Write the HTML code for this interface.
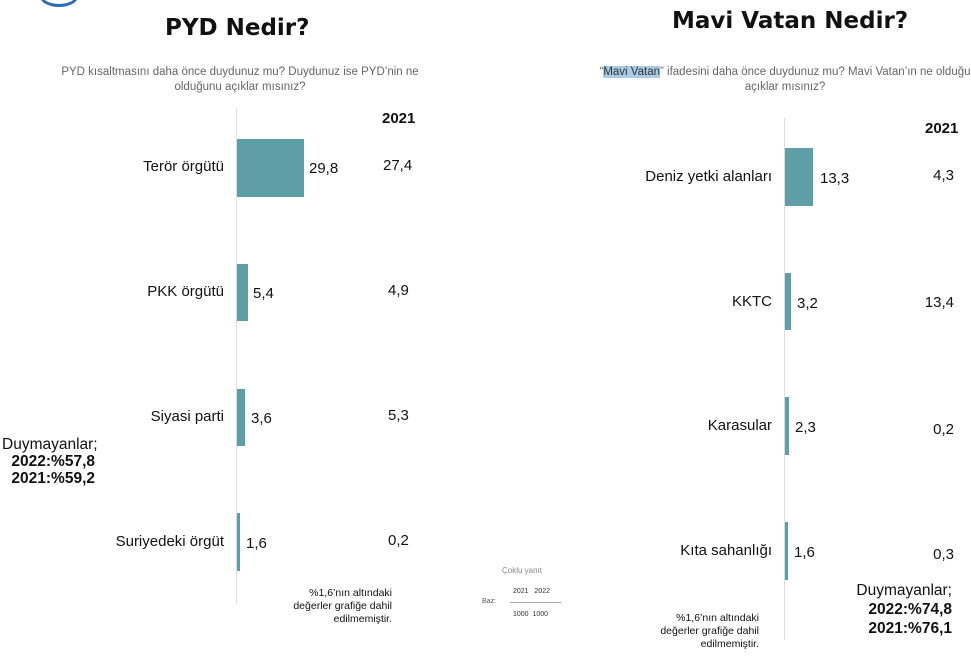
<!DOCTYPE html>
<html><head><meta charset="utf-8"><style>
body{margin:0;width:971px;height:660px;background:#fff;position:relative;overflow:hidden;font-family:"Liberation Sans","DejaVu Sans",sans-serif;color:#111}
div{position:absolute;white-space:nowrap}
.t{font-family:"DejaVu Sans","Liberation Sans",sans-serif;font-weight:bold;font-size:23px;color:#111}
.s{font-size:11.5px;color:#666;text-align:center;line-height:15px}
.l{font-size:15px;text-align:right}
.v{font-size:15px}
.b{background:#5f9ea5}
.ax{background:#dcdcdc;width:1px}
.n{font-size:10.5px;text-align:right;line-height:13px;color:#111}
.d{font-size:15.5px;line-height:17px}
</style></head><body>
<div style="left:40px;top:-14px;width:32px;height:18px;border-radius:50%;border:3px solid #2a6db5;border-top:none"></div>

<div class="t" style="left:165px;top:15px">PYD Nedir?</div>
<div class="s" style="left:40px;top:65px;width:400px">PYD kısaltmasını daha önce duydunuz mu? Duydunuz ise PYD’nin ne<br>olduğunu açıklar mısınız?</div>
<div class="ax" style="left:236px;top:108px;height:496px"></div>
<div style="left:382px;top:110px;font-weight:bold;font-size:15px">2021</div>
<div class="b" style="left:237px;top:139px;width:67px;height:58px"></div>
<div class="b" style="left:237px;top:264px;width:11px;height:57px"></div>
<div class="b" style="left:237px;top:389px;width:8px;height:57px"></div>
<div class="b" style="left:237px;top:513px;width:3px;height:58px"></div>
<div class="l" style="right:747px;top:158px">Terör örgütü</div>
<div class="l" style="right:747px;top:283px">PKK örgütü</div>
<div class="l" style="right:747px;top:408px">Siyasi parti</div>
<div class="l" style="right:747px;top:533px">Suriyedeki örgüt</div>
<div class="v" style="left:309px;top:160px">29,8</div>
<div class="v" style="left:253px;top:285px">5,4</div>
<div class="v" style="left:251px;top:410px">3,6</div>
<div class="v" style="left:246px;top:535px">1,6</div>
<div class="v" style="left:383px;top:157px">27,4</div>
<div class="v" style="left:388px;top:282px">4,9</div>
<div class="v" style="left:388px;top:407px">5,3</div>
<div class="v" style="left:388px;top:532px">0,2</div>
<div class="d" style="left:2px;top:436px">Duymayanlar;</div>
<div class="d" style="left:3px;top:453px;font-weight:bold;width:92px;text-align:right">2022:%57,8</div>
<div class="d" style="left:3px;top:470px;font-weight:bold;width:92px;text-align:right">2021:%59,2</div>
<div class="n" style="right:579px;top:587px">%1,6’nın altındaki<br>değerler grafiğe dahil<br>edilmemiştir.</div>

<div class="t" style="left:672px;top:8px">Mavi Vatan Nedir?</div>
<div class="s" style="left:575px;top:65px;width:420px">“<span style="background:#a9cbe6;color:#333">Mavi Vatan</span>” ifadesini daha önce duydunuz mu? Mavi Vatan’ın ne olduğu<br>açıklar mısınız?</div>
<div class="ax" style="left:784px;top:118px;height:522px"></div>
<div style="left:925px;top:120px;font-weight:bold;font-size:15px">2021</div>
<div class="b" style="left:785px;top:148px;width:28px;height:58px"></div>
<div class="b" style="left:785px;top:273px;width:6px;height:57px"></div>
<div class="b" style="left:785px;top:397px;width:4px;height:58px"></div>
<div class="b" style="left:785px;top:522px;width:3px;height:58px"></div>
<div class="l" style="right:199px;top:168px">Deniz yetki alanları</div>
<div class="l" style="right:199px;top:293px">KKTC</div>
<div class="l" style="right:199px;top:417px">Karasular</div>
<div class="l" style="right:199px;top:542px">Kıta sahanlığı</div>
<div class="v" style="left:820px;top:170px">13,3</div>
<div class="v" style="left:797px;top:295px">3,2</div>
<div class="v" style="left:795px;top:419px">2,3</div>
<div class="v" style="left:794px;top:544px">1,6</div>
<div class="v" style="right:17px;top:167px">4,3</div>
<div class="v" style="right:17px;top:294px">13,4</div>
<div class="v" style="right:17px;top:421px">0,2</div>
<div class="v" style="right:17px;top:546px">0,3</div>
<div class="d" style="right:19px;top:582px;text-align:right">Duymayanlar;</div>
<div class="d" style="right:19px;top:601px;font-weight:bold">2022:%74,8</div>
<div class="d" style="right:19px;top:620px;font-weight:bold">2021:%76,1</div>
<div class="n" style="right:212px;top:612px">%1,6’nın altındaki<br>değerler grafiğe dahil<br>edilmemiştir.</div>

<div style="left:502px;top:566px;font-size:8px;color:#888">Çoklu yanıt</div>
<div style="left:482px;top:598px;font-size:7px;color:#555">Baz:</div>
<div style="left:513px;top:588px;font-size:7px;color:#333">2021&nbsp;&nbsp;&nbsp;2022</div>
<div style="left:510px;top:602px;width:51px;height:1px;background:#aaa"></div>
<div style="left:513px;top:611px;font-size:7px;color:#333">1000&nbsp;&nbsp;1000</div>
</body></html>
